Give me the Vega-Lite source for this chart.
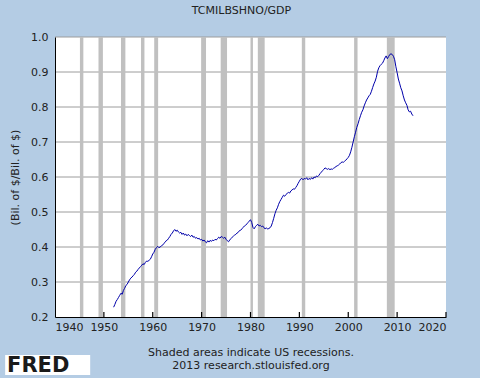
{
  "$schema": "https://vega.github.io/schema/vega-lite/v6.json",
  "width": 391,
  "height": 280,
  "autosize": {"type": "none"},
  "padding": {"left": 55, "top": 37, "right": 34, "bottom": 61},
  "background": "#b4cce4",
  "title": {"text": "TCMILBSHNO/GDP", "fontSize": 11, "fontWeight": "normal", "font": "DejaVu Sans", "color": "#222222", "offset": 15, "dx": -9},
  "config": {
    "view": {"stroke": null},
    "axis": {"labelFont": "DejaVu Sans", "titleFont": "DejaVu Sans", "labelFontSize": 11, "titleFontSize": 11, "labelColor": "#222222", "titleColor": "#222222", "titleFontWeight": "normal"}
  },
  "datasets": {
    "bg": [{"a": 1940, "b": 2020, "lo": 0.2, "hi": 1.0}],
    "grid": [{"g": 0.3, "a": 1940, "b": 2020}, {"g": 0.4, "a": 1940, "b": 2020}, {"g": 0.5, "a": 1940, "b": 2020}, {"g": 0.6, "a": 1940, "b": 2020}, {"g": 0.7, "a": 1940, "b": 2020}, {"g": 0.8, "a": 1940, "b": 2020}, {"g": 0.9, "a": 1940, "b": 2020}, {"g": 1.0, "a": 1940, "b": 2020}],
    "xticks": [{"t": 1950, "lo": 0.2, "hi": 0.2143}, {"t": 1960, "lo": 0.2, "hi": 0.2143}, {"t": 1970, "lo": 0.2, "hi": 0.2143}, {"t": 1980, "lo": 0.2, "hi": 0.2143}, {"t": 1990, "lo": 0.2, "hi": 0.2143}, {"t": 2000, "lo": 0.2, "hi": 0.2143}, {"t": 2010, "lo": 0.2, "hi": 0.2143}, {"t": 2020, "lo": 0.2, "hi": 0.2143}],
    "rec": [
      {"start": 1945.1, "end": 1945.8, "lo": 0.2, "hi": 1.0},
      {"start": 1948.9, "end": 1949.8, "lo": 0.2, "hi": 1.0},
      {"start": 1953.5, "end": 1954.4, "lo": 0.2, "hi": 1.0},
      {"start": 1957.6, "end": 1958.3, "lo": 0.2, "hi": 1.0},
      {"start": 1960.3, "end": 1961.1, "lo": 0.2, "hi": 1.0},
      {"start": 1969.9, "end": 1970.9, "lo": 0.2, "hi": 1.0},
      {"start": 1973.9, "end": 1975.2, "lo": 0.2, "hi": 1.0},
      {"start": 1980.0, "end": 1980.5, "lo": 0.2, "hi": 1.0},
      {"start": 1981.5, "end": 1982.9, "lo": 0.2, "hi": 1.0},
      {"start": 1990.5, "end": 1991.2, "lo": 0.2, "hi": 1.0},
      {"start": 2001.2, "end": 2001.9, "lo": 0.2, "hi": 1.0},
      {"start": 2007.9, "end": 2009.5, "lo": 0.2, "hi": 1.0}
    ],
    "series": [
      {"year":1952.0,"v":0.228},{"year":1952.25,"v":0.236},{"year":1952.5,"v":0.245},{"year":1952.75,"v":0.250},
      {"year":1953.0,"v":0.256},{"year":1953.25,"v":0.262},{"year":1953.5,"v":0.268},{"year":1953.75,"v":0.265},
      {"year":1954.0,"v":0.276},{"year":1954.25,"v":0.282},{"year":1954.5,"v":0.290},{"year":1954.75,"v":0.293},
      {"year":1955.0,"v":0.300},{"year":1955.25,"v":0.306},{"year":1955.5,"v":0.311},{"year":1955.75,"v":0.314},
      {"year":1956.0,"v":0.318},{"year":1956.25,"v":0.322},{"year":1956.5,"v":0.328},{"year":1956.75,"v":0.331},
      {"year":1957.0,"v":0.336},{"year":1957.25,"v":0.340},{"year":1957.5,"v":0.344},{"year":1957.75,"v":0.348},
      {"year":1958.0,"v":0.352},{"year":1958.25,"v":0.350},{"year":1958.5,"v":0.356},{"year":1958.75,"v":0.360},
      {"year":1959.0,"v":0.359},{"year":1959.25,"v":0.362},{"year":1959.5,"v":0.365},{"year":1959.75,"v":0.372},
      {"year":1960.0,"v":0.380},{"year":1960.25,"v":0.385},{"year":1960.5,"v":0.393},{"year":1960.75,"v":0.398},
      {"year":1961.0,"v":0.402},{"year":1961.25,"v":0.398},{"year":1961.5,"v":0.400},{"year":1961.75,"v":0.403},
      {"year":1962.0,"v":0.405},{"year":1962.25,"v":0.410},{"year":1962.5,"v":0.413},{"year":1962.75,"v":0.418},
      {"year":1963.0,"v":0.420},{"year":1963.25,"v":0.425},{"year":1963.5,"v":0.430},{"year":1963.75,"v":0.436},
      {"year":1964.0,"v":0.440},{"year":1964.25,"v":0.446},{"year":1964.5,"v":0.450},{"year":1964.75,"v":0.445},
      {"year":1965.0,"v":0.448},{"year":1965.25,"v":0.443},{"year":1965.5,"v":0.440},{"year":1965.75,"v":0.442},
      {"year":1966.0,"v":0.436},{"year":1966.25,"v":0.440},{"year":1966.5,"v":0.434},{"year":1966.75,"v":0.437},
      {"year":1967.0,"v":0.432},{"year":1967.25,"v":0.436},{"year":1967.5,"v":0.433},{"year":1967.75,"v":0.430},
      {"year":1968.0,"v":0.434},{"year":1968.25,"v":0.428},{"year":1968.5,"v":0.430},{"year":1968.75,"v":0.425},
      {"year":1969.0,"v":0.427},{"year":1969.25,"v":0.423},{"year":1969.5,"v":0.425},{"year":1969.75,"v":0.420},
      {"year":1970.0,"v":0.422},{"year":1970.25,"v":0.417},{"year":1970.5,"v":0.420},{"year":1970.75,"v":0.415},
      {"year":1971.0,"v":0.412},{"year":1971.25,"v":0.418},{"year":1971.5,"v":0.414},{"year":1971.75,"v":0.419},
      {"year":1972.0,"v":0.416},{"year":1972.25,"v":0.420},{"year":1972.5,"v":0.418},{"year":1972.75,"v":0.422},
      {"year":1973.0,"v":0.420},{"year":1973.25,"v":0.424},{"year":1973.5,"v":0.428},{"year":1973.75,"v":0.425},
      {"year":1974.0,"v":0.430},{"year":1974.25,"v":0.428},{"year":1974.5,"v":0.425},{"year":1974.75,"v":0.428},
      {"year":1975.0,"v":0.422},{"year":1975.25,"v":0.418},{"year":1975.5,"v":0.415},{"year":1975.75,"v":0.420},
      {"year":1976.0,"v":0.424},{"year":1976.25,"v":0.428},{"year":1976.5,"v":0.431},{"year":1976.75,"v":0.434},
      {"year":1977.0,"v":0.436},{"year":1977.25,"v":0.440},{"year":1977.5,"v":0.442},{"year":1977.75,"v":0.447},
      {"year":1978.0,"v":0.448},{"year":1978.25,"v":0.452},{"year":1978.5,"v":0.456},{"year":1978.75,"v":0.460},
      {"year":1979.0,"v":0.462},{"year":1979.25,"v":0.466},{"year":1979.5,"v":0.470},{"year":1979.75,"v":0.474},
      {"year":1980.0,"v":0.478},{"year":1980.25,"v":0.470},{"year":1980.5,"v":0.456},{"year":1980.75,"v":0.452},
      {"year":1981.0,"v":0.458},{"year":1981.25,"v":0.462},{"year":1981.5,"v":0.465},{"year":1981.75,"v":0.460},
      {"year":1982.0,"v":0.462},{"year":1982.25,"v":0.458},{"year":1982.5,"v":0.460},{"year":1982.75,"v":0.455},
      {"year":1983.0,"v":0.452},{"year":1983.25,"v":0.455},{"year":1983.5,"v":0.451},{"year":1983.75,"v":0.453},
      {"year":1984.0,"v":0.455},{"year":1984.25,"v":0.460},{"year":1984.5,"v":0.470},{"year":1984.75,"v":0.482},
      {"year":1985.0,"v":0.495},{"year":1985.25,"v":0.505},{"year":1985.5,"v":0.512},{"year":1985.75,"v":0.522},
      {"year":1986.0,"v":0.530},{"year":1986.25,"v":0.536},{"year":1986.5,"v":0.542},{"year":1986.75,"v":0.548},
      {"year":1987.0,"v":0.545},{"year":1987.25,"v":0.550},{"year":1987.5,"v":0.553},{"year":1987.75,"v":0.556},
      {"year":1988.0,"v":0.554},{"year":1988.25,"v":0.560},{"year":1988.5,"v":0.563},{"year":1988.75,"v":0.566},
      {"year":1989.0,"v":0.565},{"year":1989.25,"v":0.570},{"year":1989.5,"v":0.575},{"year":1989.75,"v":0.582},
      {"year":1990.0,"v":0.588},{"year":1990.25,"v":0.594},{"year":1990.5,"v":0.596},{"year":1990.75,"v":0.592},
      {"year":1991.0,"v":0.596},{"year":1991.25,"v":0.594},{"year":1991.5,"v":0.598},{"year":1991.75,"v":0.592},
      {"year":1992.0,"v":0.596},{"year":1992.25,"v":0.593},{"year":1992.5,"v":0.598},{"year":1992.75,"v":0.594},
      {"year":1993.0,"v":0.600},{"year":1993.25,"v":0.598},{"year":1993.5,"v":0.603},{"year":1993.75,"v":0.601},
      {"year":1994.0,"v":0.605},{"year":1994.25,"v":0.610},{"year":1994.5,"v":0.614},{"year":1994.75,"v":0.618},
      {"year":1995.0,"v":0.622},{"year":1995.25,"v":0.626},{"year":1995.5,"v":0.624},{"year":1995.75,"v":0.622},
      {"year":1996.0,"v":0.624},{"year":1996.25,"v":0.621},{"year":1996.5,"v":0.623},{"year":1996.75,"v":0.622},
      {"year":1997.0,"v":0.625},{"year":1997.25,"v":0.627},{"year":1997.5,"v":0.630},{"year":1997.75,"v":0.632},
      {"year":1998.0,"v":0.634},{"year":1998.25,"v":0.637},{"year":1998.5,"v":0.641},{"year":1998.75,"v":0.643},
      {"year":1999.0,"v":0.642},{"year":1999.25,"v":0.645},{"year":1999.5,"v":0.648},{"year":1999.75,"v":0.652},
      {"year":2000.0,"v":0.656},{"year":2000.25,"v":0.662},{"year":2000.5,"v":0.672},{"year":2000.75,"v":0.685},
      {"year":2001.0,"v":0.700},{"year":2001.25,"v":0.715},{"year":2001.5,"v":0.728},{"year":2001.75,"v":0.742},
      {"year":2002.0,"v":0.752},{"year":2002.25,"v":0.764},{"year":2002.5,"v":0.775},{"year":2002.75,"v":0.785},
      {"year":2003.0,"v":0.792},{"year":2003.25,"v":0.803},{"year":2003.5,"v":0.812},{"year":2003.75,"v":0.820},
      {"year":2004.0,"v":0.826},{"year":2004.25,"v":0.832},{"year":2004.5,"v":0.836},{"year":2004.75,"v":0.845},
      {"year":2005.0,"v":0.856},{"year":2005.25,"v":0.866},{"year":2005.5,"v":0.874},{"year":2005.75,"v":0.885},
      {"year":2006.0,"v":0.902},{"year":2006.25,"v":0.912},{"year":2006.5,"v":0.918},{"year":2006.75,"v":0.922},
      {"year":2007.0,"v":0.925},{"year":2007.25,"v":0.932},{"year":2007.5,"v":0.940},{"year":2007.75,"v":0.946},
      {"year":2008.0,"v":0.938},{"year":2008.25,"v":0.944},{"year":2008.5,"v":0.950},{"year":2008.75,"v":0.952},
      {"year":2009.0,"v":0.950},{"year":2009.25,"v":0.945},{"year":2009.5,"v":0.935},{"year":2009.75,"v":0.915},
      {"year":2010.0,"v":0.898},{"year":2010.25,"v":0.880},{"year":2010.5,"v":0.868},{"year":2010.75,"v":0.855},
      {"year":2011.0,"v":0.846},{"year":2011.25,"v":0.832},{"year":2011.5,"v":0.820},{"year":2011.75,"v":0.812},
      {"year":2012.0,"v":0.805},{"year":2012.25,"v":0.792},{"year":2012.5,"v":0.786},{"year":2012.75,"v":0.788},
      {"year":2013.0,"v":0.780},{"year":2013.25,"v":0.775}
    ],
    "logo": [{"x": 1929.8, "x2": 1947.2, "y": 0.0914, "y2": 0.034, "tx": 1930.2, "ty": 0.043, "label": "FRED"}]
  },
  "encoding": {
    "x": {"type": "quantitative", "scale": {"domain": [1940, 2020], "nice": false}, "axis": {"values": [1940,1950,1960,1970,1980,1990,2000,2010,2020], "format": "d", "grid": false, "domainColor": "black", "ticks": false, "labelPadding": 4, "zindex": 2, "title": ["Shaded areas indicate US recessions.", "2013 research.stlouisfed.org"], "titlePadding": 14, "titleLineHeight": 13}},
    "y": {"type": "quantitative", "scale": {"domain": [0.2, 1.0], "nice": false, "zero": false}, "axis": {"values": [0.2,0.3,0.4,0.5,0.6,0.7,0.8,0.9,1.0], "format": ".1f", "grid": false, "domainColor": "black", "ticks": false, "labelPadding": 7, "labelOverlap": false, "zindex": 2, "title": "(Bil. of $/Bil. of $)", "titlePadding": 10}}
  },
  "layer": [
    {
      "data": {"name": "bg"},
      "mark": {"type": "rect", "color": "white"},
      "encoding": {
        "x": {"field": "a"},
        "x2": {"field": "b"},
        "y": {"field": "lo"},
        "y2": {"field": "hi"}
      }
    },
    {
      "data": {"name": "grid"},
      "mark": {"type": "rule", "color": "#9c9c9c", "strokeWidth": 1},
      "encoding": {
        "x": {"field": "a"},
        "x2": {"field": "b"},
        "y": {"field": "g"}
      }
    },
    {
      "data": {"name": "rec"},
      "mark": {"type": "rect", "color": "#c0c0c0"},
      "encoding": {
        "x": {"field": "start"},
        "x2": {"field": "end"},
        "y": {"field": "lo"},
        "y2": {"field": "hi"}
      }
    },
    {
      "data": {"name": "xticks"},
      "mark": {"type": "rule", "color": "black", "strokeWidth": 1.2},
      "encoding": {
        "x": {"field": "t"},
        "y": {"field": "lo"},
        "y2": {"field": "hi"}
      }
    },
    {
      "data": {"name": "series"},
      "mark": {"type": "line", "color": "#0000aa", "strokeWidth": 1},
      "encoding": {
        "x": {"field": "year"},
        "y": {"field": "v"}
      }
    },
    {
      "data": {"name": "logo"},
      "mark": {"type": "rect", "color": "white", "clip": false},
      "encoding": {
        "x": {"field": "x"},
        "x2": {"field": "x2"},
        "y": {"field": "y"},
        "y2": {"field": "y2"}
      }
    },
    {
      "data": {"name": "logo"},
      "mark": {"type": "text", "align": "left", "baseline": "alphabetic", "font": "DejaVu Sans", "fontSize": 21, "fontWeight": "bold", "color": "#1a1a1a", "clip": false},
      "encoding": {
        "x": {"field": "tx"},
        "y": {"field": "ty"},
        "text": {"field": "label"}
      }
    }
  ]
}
